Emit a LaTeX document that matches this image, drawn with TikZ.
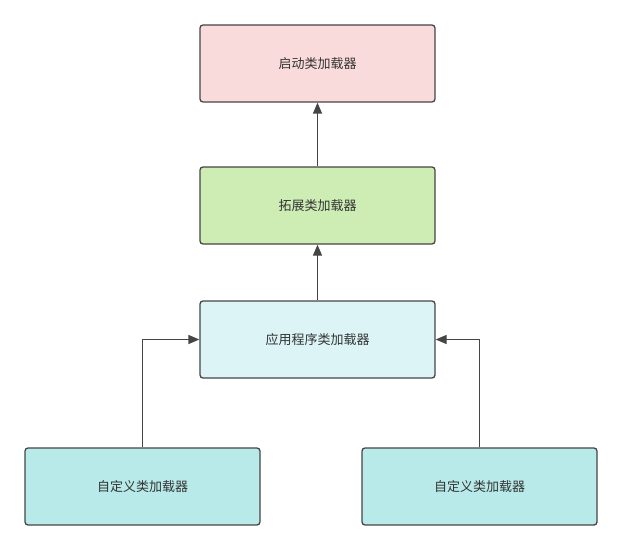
\documentclass[tikz,border=0pt]{standalone}
\usepackage{fontspec}
\setmainfont{Noto Sans CJK SC}
\usetikzlibrary{arrows.meta}

\definecolor{BootFill}{HTML}{FADBDB}
\definecolor{ExtFill}{HTML}{CDEDB4}
\definecolor{AppFill}{HTML}{DCF4F6}
\definecolor{UserFill}{HTML}{B8EAEA}
\definecolor{Edge}{HTML}{454545}

\begin{document}
\begin{tikzpicture}[x=1pt, y=-1pt,
  loader/.style={draw=Edge, line width=1.3pt, rounded corners=3pt,
    minimum width=235pt, minimum height=77pt, inner sep=0pt,
    font=\fontsize{13}{15}\selectfont, text=black!80},
  link/.style={draw=Edge, line width=1.3pt, -{Triangle[length=11pt, width=9pt]}}]

\useasboundingbox (0,0) rectangle (622,551);

%\def\Xmid{317.5}

\node[loader, fill=BootFill] (boot) at (317.5, 63.5) {启动类加载器};
\node[loader, fill=ExtFill]  (ext)  at (317.5,205.5) {拓展类加载器};
\node[loader, fill=AppFill]  (app)  at (317.5,339.5) {应用程序类加载器};
\node[loader, fill=UserFill] (userA) at (142.5,486.5) {自定义类加载器};
\node[loader, fill=UserFill] (userB) at (479.5,486.5) {自定义类加载器};

\draw[link] (ext) -- (boot);
\draw[link] (app) -- (ext);
\draw[link] (userA.north) |- (app.west);
\draw[link] (userB.north) |- (app.east);

\end{tikzpicture}
\end{document}
